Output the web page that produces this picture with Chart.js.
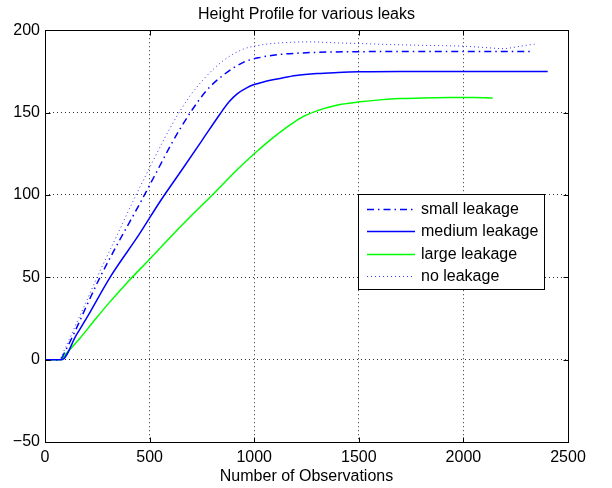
<!DOCTYPE html>
<html><head><meta charset="utf-8">
<script src="https://cdn.jsdelivr.net/npm/chart.js@4.4.1/dist/chart.umd.min.js"></script>
<style>html,body{margin:0;padding:0;background:#fff;}</style>
</head><body>
<canvas id="c" width="612" height="488"></canvas>
<script>
const titleText = 'Height Profile for various leaks';
const xAxisLabel = 'Number of Observations';
const seriesNames = ['small leakage', 'medium leakage', 'large leakage', 'no leakage'];
const xTicks = [0, 500, 1000, 1500, 2000, 2500];
const yTicks = [-50, 0, 50, 100, 150, 200];

const smallX = [0, 40, 70, 100, 150, 200, 263, 350, 450, 542, 600, 650, 700, 773, 850, 948, 1030, 1123, 1250, 1377, 1600, 1800, 2000, 2200, 2334];
const smallY = [0, 0, 0, 6, 19, 33, 50, 71, 94, 116, 130, 141, 151, 163.5, 172.5, 180.5, 183.5, 185.3, 186.3, 186.8, 187, 187, 187, 187, 187];

const mediumX = [0, 40, 80, 150, 200, 311, 450, 550, 653, 750, 836, 880, 920, 964, 1000, 1044, 1123, 1200, 1300, 1400, 1500, 1700, 1900, 2100, 2300, 2403];
const mediumY = [0, 0, 0, 15, 25.5, 50, 76, 96, 115, 133, 149, 156.5, 161.5, 165, 167, 168.6, 170.7, 172.5, 173.7, 174.3, 174.7, 175, 175, 175, 175, 175];

const largeX = [0, 40, 75, 100, 167, 231, 303, 398, 500, 600, 700, 800, 916, 1000, 1076, 1150, 1219, 1299, 1394, 1506, 1600, 1697, 1800, 1936, 2050, 2140];
const largeY = [0, 0, 0, 3.5, 13, 23, 34, 47.5, 61, 74.5, 87.5, 100, 115, 125, 133.3, 140.5, 146.5, 151, 154.5, 156.5, 157.7, 158.5, 158.8, 159.1, 159.2, 158.9];

const noX = [0, 40, 65, 100, 150, 200, 249, 350, 420, 502, 570, 629, 693, 760, 852, 948, 1030, 1123, 1267, 1400, 1506, 1650, 1777, 1900, 1999, 2100, 2190, 2255, 2300, 2340];
const noY = [0, 0, 0, 8, 22, 36, 50, 77, 96, 117, 134, 147.5, 160, 170.5, 181.5, 188.5, 191, 192.3, 192.9, 192.3, 191.9, 191.3, 190.9, 190.6, 190.3, 189.5, 188.8, 189.9, 190.8, 191.5];

const FONT = '"Liberation Sans", Arial, Helvetica, sans-serif';
const pts = (xs, ys) => xs.map((x, i) => ({x: x, y: ys[i]}));

const decor = {
  id: 'decor',
  afterDatasetsDraw(chart) {
    const {ctx, chartArea: a, scales: {x, y}} = chart;
    ctx.save();
    ctx.strokeStyle = '#000';
    ctx.lineWidth = 1;
    ctx.setLineDash([]);
    const L = Math.round(a.left) + 0.5, R = Math.round(a.right) + 0.5;
    const T = Math.round(a.top) + 0.5, B = Math.round(a.bottom) + 0.5;
    ctx.strokeRect(L, T, R - L, B - T);
    ctx.beginPath();
    xTicks.forEach(v => {
      const px = Math.round(x.getPixelForValue(v)) + 0.5;
      ctx.moveTo(px, B); ctx.lineTo(px, B - 5);
      ctx.moveTo(px, T); ctx.lineTo(px, T + 5);
    });
    yTicks.forEach(v => {
      const py = Math.round(y.getPixelForValue(v)) + 0.5;
      ctx.moveTo(L, py); ctx.lineTo(L + 5, py);
      ctx.moveTo(R, py); ctx.lineTo(R - 5, py);
    });
    ctx.stroke();
    ctx.restore();
  },
  afterDraw(chart) {
    const ctx = chart.ctx;
    const box = {left: 358.5, top: 194.5, right: 544.5, bottom: 289.5};
    ctx.save();
    ctx.fillStyle = '#fff';
    ctx.fillRect(box.left, box.top, box.right - box.left, box.bottom - box.top);
    ctx.strokeStyle = '#000';
    ctx.lineWidth = 1;
    ctx.setLineDash([]);
    ctx.strokeRect(box.left, box.top, box.right - box.left, box.bottom - box.top);
    ctx.font = '16px ' + FONT;
    ctx.textBaseline = 'middle';
    ctx.textAlign = 'left';
    chart.data.datasets.forEach((ds, i) => {
      const yy = Math.round(209 + i * 22.3) + 0.5;
      ctx.beginPath();
      ctx.strokeStyle = ds.borderColor;
      ctx.lineWidth = ds.borderWidth;
      ctx.setLineDash(ds.borderDash || []);
      ctx.moveTo(367, yy); ctx.lineTo(415, yy);
      ctx.stroke();
      ctx.setLineDash([]);
      ctx.fillStyle = '#000';
      ctx.fillText(ds.label, 421, yy);
    });
    ctx.restore();
  }
};

new Chart(document.getElementById('c'), {
  type: 'line',
  data: {
    datasets: [
      {label: seriesNames[0], data: pts(smallX, smallY), borderColor: '#0000ff', borderWidth: 1.5, borderDash: [7, 4, 1.5, 4]},
      {label: seriesNames[1], data: pts(mediumX, mediumY), borderColor: '#0000ff', borderWidth: 1.5},
      {label: seriesNames[2], data: pts(largeX, largeY), borderColor: '#00ff00', borderWidth: 1.5},
      {label: seriesNames[3], data: pts(noX, noY), borderColor: '#3333ff', borderWidth: 1, borderDash: [1, 3]}
    ]
  },
  options: {
    responsive: false,
    animation: false,
    devicePixelRatio: 1,
    layout: {padding: {left: 0, right: 44, top: 0, bottom: 0}},
    elements: {point: {radius: 0}, line: {cubicInterpolationMode: 'monotone', fill: false}},
    plugins: {
      legend: {display: false},
      tooltip: {enabled: false},
      title: {display: true, fullSize: false, text: titleText, color: '#000', font: {family: FONT, size: 16, weight: 'normal'}, padding: {top: 5, bottom: 6}}
    },
    scales: {
      x: {
        type: 'linear', min: 0, max: 2500,
        afterBuildTicks: s => { s.ticks = xTicks.map(v => ({value: v})); },
        afterFit: s => { s.height = 46; },
        grid: {color: '#333', lineWidth: 1, drawTicks: false},
        border: {display: false, dash: [1, 3]},
        ticks: {color: '#000', font: {family: FONT, size: 16}, padding: 6, maxRotation: 0,
          callback: v => String(v)},
        title: {display: true, text: xAxisLabel, color: '#000', font: {family: FONT, size: 16}, padding: {top: 0, bottom: 2}}
      },
      y: {
        type: 'linear', min: -50, max: 200,
        afterBuildTicks: s => { s.ticks = yTicks.map(v => ({value: v})); },
        afterFit: s => { s.width = 45; },
        grid: {color: '#333', lineWidth: 1, drawTicks: false},
        border: {display: false, dash: [1, 3]},
        ticks: {color: '#000', font: {family: FONT, size: 16}, padding: 5,
          callback: v => (v < 0 ? '\u2212' + Math.abs(v) : String(v))}
      }
    }
  },
  plugins: [decor]
});
</script>
</body></html>
